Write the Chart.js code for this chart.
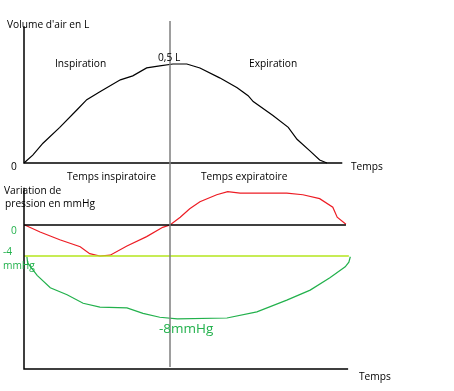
<!DOCTYPE html>
<html>
<head>
<meta charset="utf-8">
<script src="https://cdn.jsdelivr.net/npm/chart.js@4.4.0/dist/chart.umd.min.js"></script>
<style>
  html, body { margin: 0; padding: 0; background: #fff; }
  #wrap { position: relative; width: 454px; height: 391px; overflow: hidden; }
  #chart { position: absolute; left: 0; top: 0; }
  .lbl { position: absolute; font-family: "Open Sans", sans-serif; font-size: 10.2px; line-height: 1; color: #000; white-space: nowrap; }
  .g { color: #22b14c; }
</style>
</head>
<body>
<div id="wrap">
  <canvas id="chart" width="454" height="391"></canvas>
  <div class="lbl" style="left:7px;top:19px">Volume d'air en L</div>
  <div class="lbl" style="left:55px;top:58px">Inspiration</div>
  <div class="lbl" style="left:158px;top:52px">0,5 L</div>
  <div class="lbl" style="left:249px;top:58px">Expiration</div>
  <div class="lbl" style="left:11px;top:161px">0</div>
  <div class="lbl" style="left:351px;top:161px">Temps</div>
  <div class="lbl" style="left:67px;top:171px">Temps inspiratoire</div>
  <div class="lbl" style="left:201px;top:171px">Temps expiratoire</div>
  <div class="lbl" style="left:4px;top:185px">Variation de</div>
  <div class="lbl" style="left:5px;top:198px">pression en mmHg</div>
  <div class="lbl g" style="left:11px;top:225px">0</div>
  <div class="lbl g" style="left:3px;top:246px">-4</div>
  <div class="lbl g" style="left:3px;top:260px">mmHg</div>
  <div class="lbl g" style="left:159px;top:322px;font-size:13.5px">-8mmHg</div>
  <div class="lbl" style="left:359px;top:371px">Temps</div>
</div>
<script>
// volume d'air (L) en fonction du temps
const volTime = [0, 0.12, 0.26, 0.49, 0.73, 0.86, 1.04, 1.32, 1.49, 1.68, 1.86, 2.04, 2.23, 2.41, 2.68, 2.92, 3.07, 3.14, 3.41, 3.62, 3.74, 3.92, 4.05, 4.15];
const volValues = [0, 0.04, 0.10, 0.18, 0.27, 0.32, 0.36, 0.42, 0.44, 0.48, 0.49, 0.50, 0.50, 0.48, 0.43, 0.38, 0.34, 0.31, 0.24, 0.18, 0.12, 0.06, 0.015, 0];

// variation de pression (courbe rouge)
const redTime = [0.01, 0.22, 0.49, 0.77, 0.90, 1.04, 1.18, 1.41, 1.68, 1.90, 2.0, 2.14, 2.27, 2.41, 2.64, 2.79, 2.96, 3.60, 3.82, 4.05, 4.23, 4.29, 4.41];
const redValues = [0, -0.9, -1.9, -2.8, -3.7, -4.0, -3.9, -2.7, -1.5, -0.3, 0, 1.0, 2.1, 3.0, 3.9, 4.3, 4.1, 4.1, 3.9, 3.4, 2.3, 1.0, 0.1];

// variation de pression (courbe verte)
const greenTime = [0.04, 0.05, 0.18, 0.36, 0.59, 0.81, 1.04, 1.41, 1.63, 1.86, 2.10, 2.78, 3.19, 3.60, 3.92, 4.19, 4.40, 4.45, 4.47];
const greenValues = [-4.1, -4.9, -6.5, -8.1, -9.0, -10.1, -10.6, -10.7, -11.4, -11.9, -12.1, -12.0, -11.2, -9.7, -8.4, -6.8, -5.4, -4.8, -4.1];

// axes et reperes
const tSwitch = 2.0;          // fin de l'inspiration
const volAxisTop = 0.69;
const volAxisEnd = 4.36;
const pAxisTop = 4.8;
const pAxisBottom = -18.58;
const pAxisEnd = 4.44;
const zeroLineEnd = 4.41;
const p4 = -4;
const p4LineEnd = 4.45;
const switchRange = [0.717, -1.03];

const pts = (xs, ys) => xs.map((x, i) => ({ x: x, y: ys[i] }));

function seg(data, axis, color, width) {
  return {
    data: data,
    yAxisID: axis,
    borderColor: color,
    borderWidth: width,
    pointRadius: 0,
    tension: 0,
    clip: false
  };
}

const datasets = [
  seg([{ x: tSwitch, y: switchRange[0] }, { x: tSwitch, y: switchRange[1] }], 'yV', '#7f7f7f', 1.5),
  seg([{ x: 0, y: volAxisTop }, { x: 0, y: 0 }, { x: volAxisEnd, y: 0 }], 'yV', '#000', 1.5),
  seg([{ x: 0, y: pAxisTop }, { x: 0, y: pAxisBottom }, { x: pAxisEnd, y: pAxisBottom }], 'yP', '#000', 1.5),
  seg([{ x: 0, y: 0 }, { x: zeroLineEnd, y: 0 }], 'yP', '#000', 1.3),
  seg([{ x: 0, y: p4 }, { x: p4LineEnd, y: p4 }], 'yP', '#b5e61d', 1.5),
  seg(pts(volTime, volValues), 'yV', '#000', 1.2),
  seg(pts(redTime, redValues), 'yP', '#ed1c24', 1.2),
  seg(pts(greenTime, greenValues), 'yP', '#22b14c', 1.2)
];

new Chart(document.getElementById('chart').getContext('2d'), {
  type: 'line',
  data: { datasets: datasets },
  options: {
    responsive: false,
    animation: false,
    layout: { padding: { left: 24, top: 21, right: 102, bottom: 22 } },
    scales: {
      x: { type: 'linear', min: 0, max: 4.493, display: false },
      yV: { type: 'linear', min: -1.040, max: 0.717, display: false },
      yP: { type: 'linear', min: -18.58, max: 26.32, display: false }
    },
    plugins: { legend: { display: false }, tooltip: { enabled: false } }
  }
});
</script>
</body>
</html>
